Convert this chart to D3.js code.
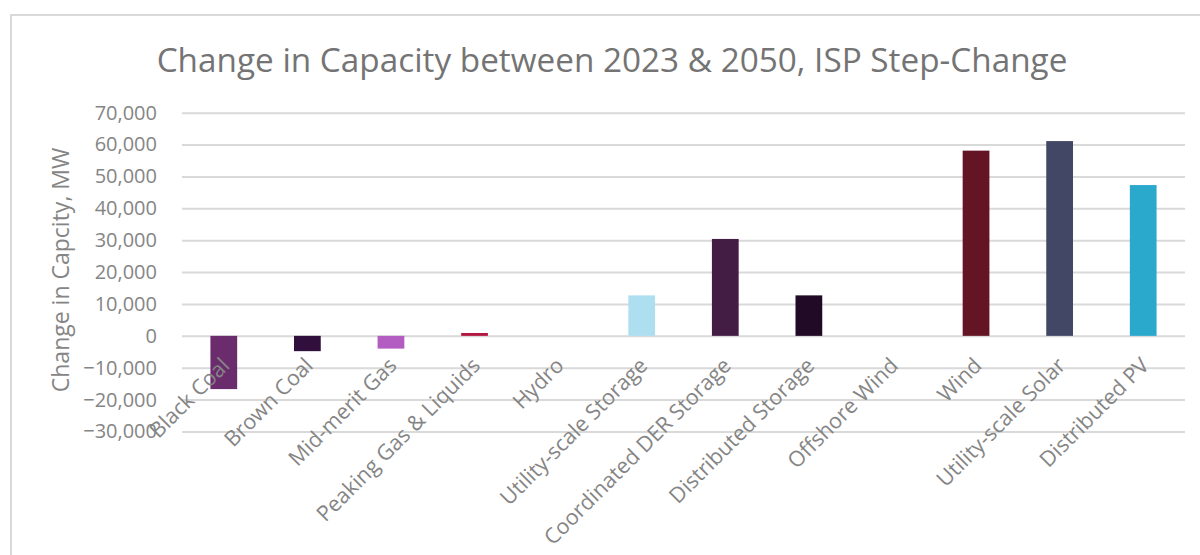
<!DOCTYPE html>
<html>
<head>
<meta charset="utf-8">
<script src="https://cdn.jsdelivr.net/npm/d3@7"></script>
<style>
  body { margin: 0; background: #fff; }
  text { font-family: "Segoe UI", "Open Sans", sans-serif; }
</style>
</head>
<body>
<script>
'use strict';

// data (MW)
const categories = ["Black Coal", "Brown Coal", "Mid-merit Gas", "Peaking Gas & Liquids", "Hydro",
  "Utility-scale Storage", "Coordinated DER Storage", "Distributed Storage", "Offshore Wind",
  "Wind", "Utility-scale Solar", "Distributed PV"];
const changeMW = [-16700, -4800, -4000, 900, 0, 12700, 30400, 12700, 0, 58100, 61100, 47300];
const barColors = ["#6b2c6e", "#300f3c", "#b35cc1", "#b3173f", "#7f7f7f", "#addff0",
  "#431d44", "#200a25", "#7f7f7f", "#631525", "#434766", "#2aa9cd"];
const yTicks = [-30000, -20000, -10000, 0, 10000, 20000, 30000, 40000, 50000, 60000, 70000];

const width = 1200, height = 555;

const svg = d3.select("body").append("svg")
  .attr("width", width)
  .attr("height", height);

// chart border (only top and left edges fall inside the picture)
svg.append("rect")
  .attr("x", 11).attr("y", 15)
  .attr("width", 1300).attr("height", 700)
  .attr("fill", "#fff")
  .attr("stroke", "#d9d9d9")
  .attr("stroke-width", 2);

const x = d3.scaleBand()
  .domain(categories)
  .range([182, 1185])
  .paddingInner(0.68)
  .paddingOuter(0.34);

const y = d3.scaleLinear()
  .domain([-30000, 70000])
  .range([431.5, 112.7]);

// gridlines + y labels
const yAxis = d3.axisLeft(y)
  .tickValues(yTicks)
  .tickSize(-(1185 - 182))
  .tickPadding(25)
  .tickFormat(d3.format(","));

const gy = svg.append("g")
  .attr("transform", "translate(182,0)")
  .call(yAxis);
gy.select(".domain").remove();
gy.selectAll(".tick line")
  .attr("stroke", "#d9d9d9")
  .attr("stroke-width", 2);
gy.selectAll(".tick text")
  .attr("fill", "#858585")
  .style("font-size", "20px");

// bars
svg.append("g").selectAll("rect")
  .data(categories)
  .enter()
  .append("rect")
    .attr("x", d => x(d))
    .attr("width", x.bandwidth())
    .attr("y", (d, i) => y(Math.max(0, changeMW[i])))
    .attr("height", (d, i) => Math.abs(y(changeMW[i]) - y(0)))
    .attr("fill", (d, i) => barColors[i]);

// category labels, rotated -45
svg.append("g").selectAll("text")
  .data(categories)
  .enter()
  .append("text")
    .attr("transform", d => "translate(" + (x(d) + x.bandwidth() / 2 + 7) + "," + (y(0) + 31) + ")rotate(-45)")
    .attr("text-anchor", "end")
    .attr("fill", "#858585")
    .style("font-size", "21.5px")
    .text(d => d);

// y axis title
svg.append("text")
  .attr("transform", "translate(69,270)rotate(-90)")
  .attr("text-anchor", "middle")
  .attr("fill", "#858585")
  .style("font-size", "23px")
  .text("Change in Capcity, MW");

// chart title
const title = svg.append("text")
  .attr("x", 612)
  .attr("y", 72)
  .attr("text-anchor", "middle")
  .attr("fill", "#747474")
  .style("font-size", "34px")
  .text("Change in Capacity between 2023 & 2050, ISP Step-Change");

// shrink the title to the reference width if the fallback font runs wide
const tw = title.node().getComputedTextLength();
if (tw > 911) title.style("font-size", (34 * 911 / tw) + "px");
</script>
</body>
</html>
